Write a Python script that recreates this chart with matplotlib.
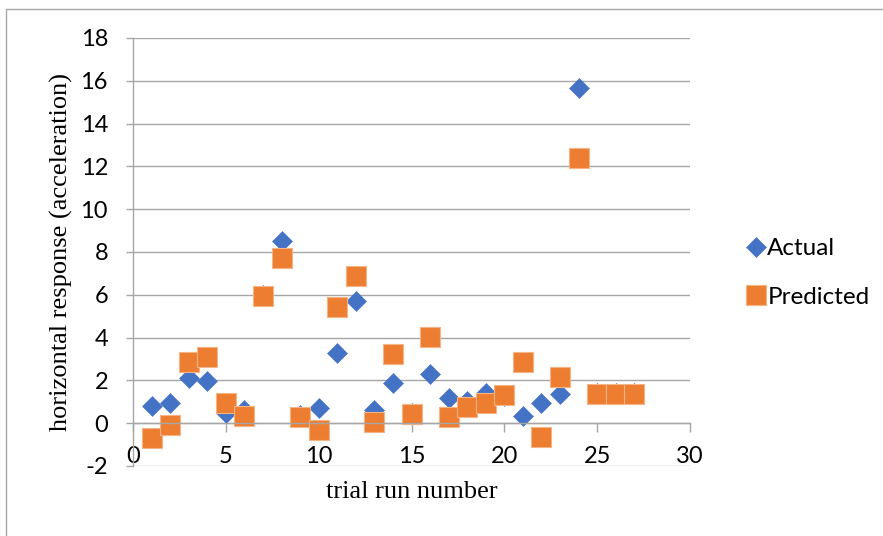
import matplotlib
matplotlib.use("Agg")
import matplotlib.pyplot as plt
from matplotlib.patches import Rectangle

plt.rcParams["axes.unicode_minus"] = False

runs = list(range(1, 28))
actual = [0.8, 0.93, 2.1, 1.96, 0.5, 0.6, 6.0, 8.5, 0.4, 0.7, 3.3, 5.7, 0.6, 1.87,
          0.5, 2.3, 1.17, 1.05, 1.4, 1.25, 0.35, 0.95, 1.35, 15.65, 1.4, 1.4, 1.4]
predicted = [-0.7, -0.1, 2.85, 3.08, 0.93, 0.35, 5.93, 7.7, 0.3, -0.33, 5.45, 6.9,
             0.05, 3.22, 0.42, 4.02, 0.3, 0.75, 0.95, 1.3, 2.85, -0.65, 2.17, 12.4,
             1.38, 1.38, 1.38]
xticks = [0, 5, 10, 15, 20, 25, 30]
yticks = list(range(-2, 19, 2))

W, H = 883, 536
fig = plt.figure(figsize=(W / 100, H / 100), dpi=100)
# chart area border (cropped on right and bottom)
fig.patches.append(Rectangle((6 / W, -0.1), 2, 1.1 - 9 / H, transform=fig.transFigure,
                             fill=False, edgecolor="#a6a6a6", linewidth=1.0))

ax = fig.add_axes([133 / W, 70 / H, (690 - 133) / W, (466 - 38) / H])
grid = "#a6a6a6"

ax.plot(runs, actual, linestyle="none", marker="D", markersize=10.2,
        color="#4472c4", markeredgecolor="#4472c4", markeredgewidth=0.4, label="Actual")
ax.plot(runs, predicted, linestyle="none", marker="s", markersize=14.0,
        color="#ed7d31", markeredgecolor="#f5b486", markeredgewidth=0.8, label="Predicted")

ax.set_xlim(0, 30)
ax.set_ylim(-2, 18)
ax.set_xticks(xticks)
ax.set_yticks(yticks)
ax.yaxis.grid(True, color=grid, linewidth=1.0)
ax.set_axisbelow(True)

for s in ["top", "right"]:
    ax.spines[s].set_visible(False)
ax.spines["bottom"].set_position(("data", 0))
ax.spines["bottom"].set_color(grid)
ax.spines["left"].set_color(grid)
ax.spines["bottom"].set_linewidth(1.0)
ax.spines["left"].set_linewidth(1.0)

tick_font = "Lato"
ax.tick_params(axis="x", direction="out", length=6.5, width=1.0, color=grid,
               pad=10, labelsize=17)
ax.tick_params(axis="y", direction="out", length=5, width=1.0, color=grid,
               pad=13, labelsize=17)
for lab in ax.get_xticklabels() + ax.get_yticklabels():
    lab.set_fontfamily(tick_font)

ax.set_xlabel("trial run number", fontfamily="Liberation Serif", fontsize=19)
ax.set_ylabel("horizontal response (acceleration)", fontfamily="Liberation Serif",
              fontsize=19)
ax.xaxis.set_label_coords(0.5, -0.035)
ax.yaxis.set_label_coords(-0.108, 0.5)

leg = fig.legend(loc="center left", bbox_to_anchor=(726 / W, 1 - 273 / H), frameon=False,
                 handlelength=0.7, handletextpad=0.1, labelspacing=1.15,
                 prop={"family": tick_font, "size": 17.5})

fig.savefig("out.png", dpi=100)
